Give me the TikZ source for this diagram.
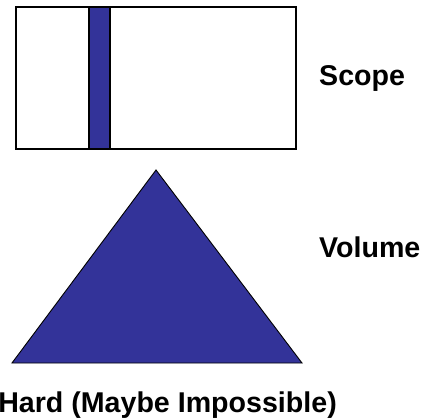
\documentclass[tikz,border=0pt]{standalone}
\usepackage{fontspec}
\setmainfont{Liberation Sans}
\usepackage{xcolor}
\usepackage{tikz}
\definecolor{volblue}{RGB}{51,51,153}

\begin{document}
\begin{tikzpicture}[
  x=1pt, y=-1pt,
  box/.style={draw=black, line width=1.4pt},
  slab/.style={draw=black, line width=1.2pt, fill=volblue},
  lbl/.style={font=\fontsize{28.6}{32}\selectfont\bfseries, inner sep=0pt}]
\useasboundingbox (0,0) rectangle (428,419);
% scope box with the thin slice
\draw[box] (16,7) rectangle (296,149);
\draw[slab] (89,7) rectangle (110,149);
% volume triangle
\draw[slab, line width=0.9pt] (156,170) -- (302,363) -- (12,363) -- cycle;
% labels
\node[lbl, anchor=base west] (scope)  at (319,86)  {Scope};
\node[lbl, anchor=base west] (volume) at (319,258) {Volume};
\node[lbl, anchor=base east] (hard)   at (337,412) {Hard (Maybe Impossible)};
\end{tikzpicture}
\end{document}
